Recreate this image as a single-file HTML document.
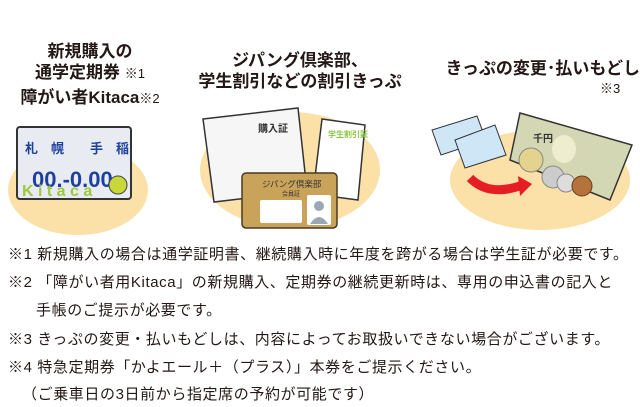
<!DOCTYPE html>
<html><head><meta charset="utf-8"><style>
body{margin:0;width:640px;height:407px;background:#fff;overflow:hidden;position:relative;font-family:"Liberation Sans","Noto Sans CJK JP",sans-serif;color:#231815}
.t{position:absolute;font-weight:bold;font-size:17px;line-height:21px;text-align:center;white-space:nowrap}
.s{font-weight:normal;font-size:13px}
.n{position:absolute;left:8px;font-size:15px;letter-spacing:0.6px;white-space:nowrap;line-height:20px}
</style></head><body>
<div class="t" style="left:20px;top:41px;width:140px">新規購入の<br>通学定期券 <span class="s">※1</span></div>
<div class="t" style="left:10px;top:87px;width:160px">障がい者Kitaca<span class="s">※2</span></div>
<div class="t" style="left:190px;top:50px;width:220px;font-size:17px">ジパング倶楽部、<br>学生割引などの割引きっぷ</div>
<div class="t" style="left:430px;top:58px;width:210px;font-size:17px;text-align:right">きっぷの変更･払いもどし</div>
<div class="t s" style="left:600px;top:78px">※3</div>
<svg style="position:absolute;left:0;top:0" width="640" height="240">
<ellipse cx="78" cy="190" rx="70" ry="45" fill="#fbe0a8"/>
<rect x="17" y="127" width="114" height="72" rx="3" fill="#e8ebf2" stroke="#333" stroke-width="2"/>
<text x="25" y="153" font-size="13" fill="#1d3f9e" font-weight="bold">札　幌　　手　稲</text>
<text x="32" y="187" font-size="22" fill="#1d3f9e" font-weight="bold">00.-0.00</text>
<text x="22" y="196" font-size="16" fill="#9cc93a" font-weight="bold">K  i  t a c a</text>
<circle cx="118" cy="185" r="9" fill="#c8d83a" stroke="#444"/>
<ellipse cx="290" cy="170" rx="90" ry="58" fill="#fbe0a8"/>
<polygon points="203,119 298,108 307,191 214,202" fill="#f6f6f6" stroke="#333" stroke-width="1.5"/>
<text x="258" y="132" font-size="10" font-weight="bold" fill="#333">購入証</text>
<polygon points="322,119 365,125 358,200 313,194" fill="#fff" stroke="#333" stroke-width="1.5"/>
<text x="328" y="137" font-size="8" fill="#8cc63f" font-weight="bold">学生割引証</text>
<rect x="242" y="173" width="95" height="55" rx="4" fill="#c9a35a" stroke="#4a3a20" stroke-width="1.5"/>
<text x="262" y="187" font-size="8.5" fill="#333">ジパング倶楽部</text>
<text x="282" y="196" font-size="6" fill="#333">会員証</text>
<rect x="260" y="200" width="42" height="23" rx="2" fill="#fff"/>
<rect x="307" y="195" width="24" height="30" rx="2" fill="#fff"/>
<circle cx="319" cy="206" r="5" fill="#9aa7b4"/><path d="M310 224 q9 -14 18 0z" fill="#9aa7b4"/>
<ellipse cx="540" cy="180" rx="90" ry="50" fill="#fbe0a8"/>
<polygon points="432,130 477,116 486,140 441,155" fill="#cfe6f6" stroke="#333"/>
<polygon points="455,140 495,125 506,155 465,168" fill="#cfe6f6" stroke="#333"/>
<polygon points="520,113 632,145 610,200 510,160" fill="#d4d7b4" stroke="#333" stroke-width="1.5"/>
<text x="533" y="142" font-size="10" font-weight="bold" fill="#333">千円</text>
<ellipse cx="564" cy="149" rx="12" ry="14" fill="#eeedcf"/>
<path d="M470 178 q20 20 55 6" stroke="#e51d25" stroke-width="9" fill="none"/>
<polygon points="518,176 532,184 520,196" fill="#e51d25"/>
<circle cx="531" cy="160" r="12" fill="#e3d38c" stroke="#888"/>
<circle cx="553" cy="177" r="11" fill="#ccc" stroke="#888"/>
<circle cx="566" cy="183" r="9" fill="#ddd" stroke="#888"/>
<circle cx="582" cy="186" r="10" fill="#b3733a" stroke="#6a3d1a"/>
</svg>
<div class="n" style="top:245px">※1 新規購入の場合は通学証明書、継続購入時に年度を跨がる場合は学生証が必要です。</div>
<div class="n" style="top:273px">※2 「障がい者用Kitaca」の新規購入、定期券の継続更新時は、専用の申込書の記入と</div>
<div class="n" style="top:301px;left:36px">手帳のご提示が必要です。</div>
<div class="n" style="top:330px">※3 きっぷの変更・払いもどしは、内容によってお取扱いできない場合がございます。</div>
<div class="n" style="top:358px">※4 特急定期券「かよエール＋（プラス）」本券をご提示ください。</div>
<div class="n" style="top:385px;left:22px">（ご乗車日の3日前から指定席の予約が可能です）</div>
</body></html>
